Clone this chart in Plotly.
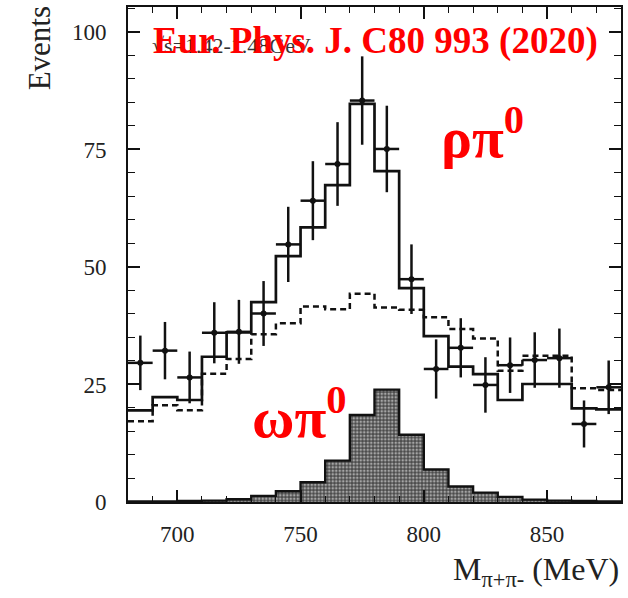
import plotly.graph_objects as go

# ---------------- data ----------------
bin_centers = [685, 695, 705, 715, 725, 735, 745, 755, 765, 775,
               785, 795, 805, 815, 825, 835, 845, 855, 865, 875]
bin_width = 10

data_counts = [29.6, 32.2, 26.5, 36.0, 36.2, 40.1, 54.8, 64.1, 71.9, 85.4,
               75.1, 47.4, 28.3, 32.8, 24.9, 29.1, 30.2, 30.6, 16.6, 24.4]
data_errors = [5.8, 6.1, 5.5, 6.5, 6.8, 6.9, 8.0, 8.4, 8.9, 9.4,
               9.2, 7.4, 6.3, 6.3, 5.9, 5.9, 5.9, 6.3, 5.0, 5.7]

total_fit = [19.5, 22.3, 21.7, 30.9, 36.1, 42.5, 52.3, 58.4, 67.4, 84.7,
             70.4, 45.5, 35.3, 28.8, 27.2, 21.7, 25.1, 25.1, 19.9, 19.7]
rho_pi = [17.2, 20.6, 19.5, 27.3, 30.4, 35.7, 38.0, 41.6, 41.0, 44.3,
          41.4, 40.9, 39.3, 36.8, 34.8, 27.9, 31.1, 31.1, 24.2, 23.8]
omega_pi = [0.1, 0.1, 0.2, 0.3, 0.6, 1.3, 2.3, 4.2, 8.8, 18.5,
            23.9, 14.3, 6.9, 3.3, 2.0, 1.1, 0.5, 0.3, 0.2, 0.1]

x_ticks = [700, 750, 800, 850]
y_ticks = [0, 25, 50, 75, 100]
x_range = [680, 880]
y_range = [0, 105.3]

x_title = "M<sub>π+π-</sub> (MeV)"
y_title = "Events"
energy_label = "√s=1.42-1.48GeV"
journal_label = "Eur. Phys. J. C80 993 (2020)"
rho_label = "ρπ<sup>0</sup>"
omega_label = "ωπ<sup>0</sup>"

SERIF = "Liberation Serif, Times New Roman, serif"

# step-histogram helper: left edges + final right edge
def steps(values):
    edges = [c - bin_width / 2 for c in bin_centers] + [bin_centers[-1] + bin_width / 2]
    return edges, list(values) + [values[-1]]

fig = go.Figure()

ox, oy = steps(omega_pi)
fig.add_trace(go.Scatter(
    x=ox, y=oy, mode="lines", line=dict(shape="hv", color="#111", width=2.4),
    fill="tozeroy",
    fillpattern=dict(shape=".", size=3.5, solidity=0.45, fgcolor="white", bgcolor="#4a4a4a"),
    hoverinfo="skip", showlegend=False))

rx, ry = steps(rho_pi)
fig.add_trace(go.Scatter(
    x=rx, y=ry, mode="lines",
    line=dict(shape="hv", color="#111", width=2.5, dash="6px,4px"),
    hoverinfo="skip", showlegend=False))

tx, ty = steps(total_fit)
fig.add_trace(go.Scatter(
    x=tx, y=ty, mode="lines", line=dict(shape="hv", color="#111", width=2.7),
    hoverinfo="skip", showlegend=False))

fig.add_trace(go.Scatter(
    x=bin_centers, y=data_counts, mode="markers",
    marker=dict(color="#111", size=6),
    error_y=dict(type="data", array=data_errors, color="#111", thickness=2.5, width=0),
    error_x=dict(type="constant", value=bin_width / 2, color="#111", thickness=2.5, width=0),
    showlegend=False))

axis_common = dict(
    showline=True, linecolor="#111", linewidth=2, mirror="ticks",
    ticks="inside", tickcolor="#111", tickwidth=1.6, ticklen=12,
    showgrid=False, zeroline=False,
    tickfont=dict(family=SERIF, size=23, color="#222"),
)

fig.update_xaxes(range=x_range, tickvals=x_ticks,
                 minor=dict(dtick=10, ticklen=6, ticks="inside", tickcolor="#111", tickwidth=1.2),
                 ticklabelstandoff=10, **axis_common)
fig.update_yaxes(range=y_range, tickvals=y_ticks,
                 minor=dict(dtick=5, ticklen=7, ticks="inside", tickcolor="#111", tickwidth=1.2),
                 ticklabelstandoff=15, **axis_common)

L, R, T, B = 128, 5, 7, 96
W, H = 628, 598
pw, ph = W - L - R, H - T - B

def px(x):
    return (x - L) / pw

def py(y):
    return (H - B - y) / ph

annotations = [
    dict(text=y_title, x=px(40), y=py(48), textangle=-90,
         font=dict(family=SERIF, size=31, color="#222")),
    dict(text=x_title, x=1.0, y=py(549), xanchor="right", yanchor="top",
         font=dict(family=SERIF, size=32, color="#222")),
    dict(text=energy_label, x=px(150), y=py(46), xanchor="left", yanchor="middle",
         font=dict(family=SERIF, size=22, color="#333")),
    dict(text="<b>" + journal_label + "</b>", x=px(377), y=py(41), xanchor="center", yanchor="middle",
         font=dict(family=SERIF, size=37, color="#ff0000")),
    dict(text="<b>" + rho_label + "</b>", x=px(484), y=py(133), xanchor="center", yanchor="middle",
         font=dict(family=SERIF, size=58, color="#ff0000")),
    dict(text="<b>" + omega_label + "</b>", x=px(300), y=py(413), xanchor="center", yanchor="middle",
         font=dict(family=SERIF, size=58, color="#ff0000")),
]
for a in annotations:
    a.setdefault("xanchor", "center")
    a.setdefault("yanchor", "middle")
    a.update(xref="paper", yref="paper", showarrow=False)

fig.update_layout(
    width=W, height=H,
    margin=dict(l=L, r=R, t=T, b=B),
    paper_bgcolor="white", plot_bgcolor="white",
    annotations=annotations,
    showlegend=False,
)

fig.write_html("out.html")
